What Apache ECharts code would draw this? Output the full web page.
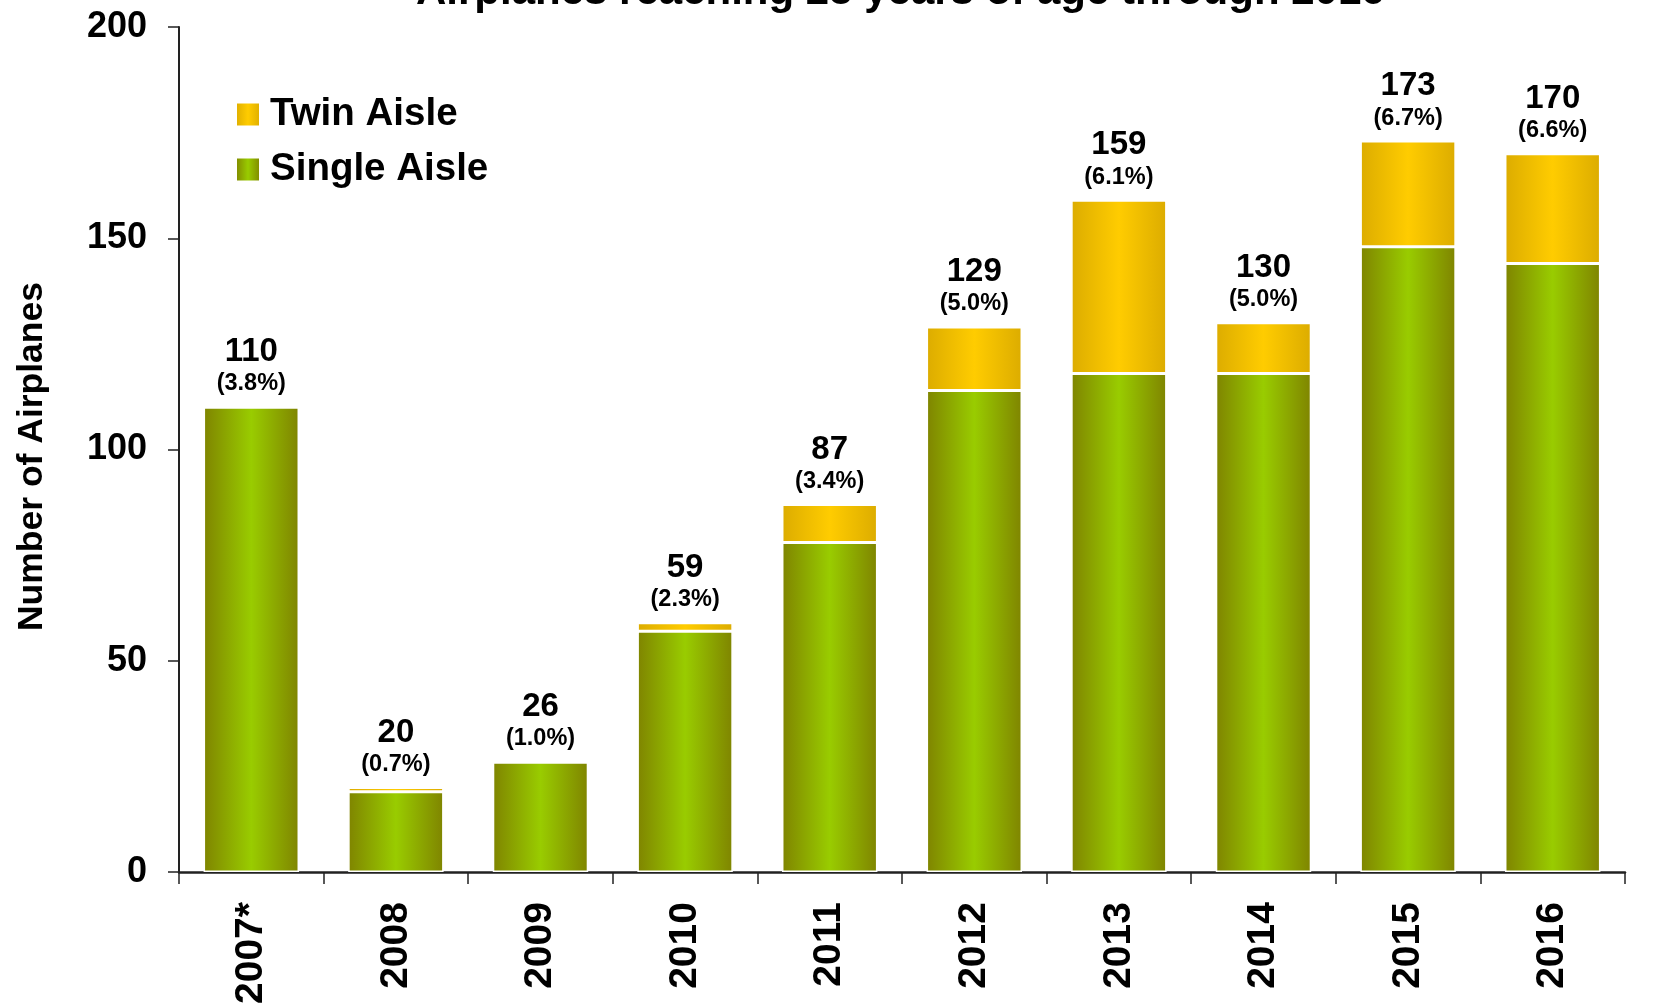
<!DOCTYPE html>
<html>
<head>
<meta charset="utf-8">
<script src="https://cdn.jsdelivr.net/npm/echarts@6/dist/echarts.min.js"></script>
<style>
html,body{margin:0;padding:0;background:#fff;}
#chart{width:1674px;height:1007px;}
</style>
</head>
<body>
<div id="chart"></div>
<script>
const categories = ['2007*','2008','2009','2010','2011','2012','2013','2014','2015','2016'];
const singleAisle = [110, 19, 26, 57, 78, 114, 118, 118, 148, 144];
const twinAisle   = [0, 1, 0, 2, 9, 15, 41, 12, 25, 26];
const totals      = [110, 20, 26, 59, 87, 129, 159, 130, 173, 170];
const percents    = ['3.8%','0.7%','1.0%','2.3%','3.4%','5.0%','6.1%','5.0%','6.7%','6.6%'];
const yTicks = [0, 50, 100, 150, 200];

const FONT = 'Liberation Sans, Arial, sans-serif';
const greenGrad = new echarts.graphic.LinearGradient(0,0,1,0,[
  {offset:0,color:'#7f8400'},{offset:0.5,color:'#99cc00'},{offset:1,color:'#7f8400'}]);
const yellowGrad = new echarts.graphic.LinearGradient(0,0,1,0,[
  {offset:0,color:'#dcac00'},{offset:0.5,color:'#ffcc00'},{offset:1,color:'#dcac00'}]);

const chart = echarts.init(document.getElementById('chart'), null, {renderer:'canvas'});
chart.setOption({
  backgroundColor:'#ffffff',
  animation:false,
  textStyle:{fontFamily:FONT},
  title:{
    text:'Airplanes reaching 25 years of age through 2016',
    left:411, top:-34,
    textStyle:{fontFamily:FONT,fontSize:42,fontWeight:'bold',color:'#000'}
  },
  legend:{
    data:['Twin Aisle','Single Aisle'],
    orient:'vertical', left:230, top:90,
    itemWidth:24, itemHeight:24, itemGap:16,
    icon:'rect',
    textStyle:{fontFamily:FONT,fontSize:38.5,fontWeight:'bold',color:'#000',padding:[0,0,0,5]}
  },
  grid:{left:179,right:49,top:27,bottom:132},
  xAxis:{
    type:'category', data:categories,
    axisLine:{lineStyle:{color:'#222',width:2.5}},
    axisTick:{show:true,length:12,lineStyle:{color:'#222',width:1.5}},
    axisLabel:{rotate:90,margin:30,fontFamily:FONT,fontSize:39,fontWeight:'bold',color:'#000'}
  },
  yAxis:{
    type:'value', min:yTicks[0], max:yTicks[yTicks.length-1], interval:50,
    name:'Number of Airplanes', nameLocation:'middle', nameGap:129, nameRotate:90,
    nameTextStyle:{fontFamily:FONT,fontSize:35.5,fontWeight:'bold',color:'#000',padding:[0,14,0,0]},
    axisLine:{show:true,lineStyle:{color:'#222',width:2}},
    axisTick:{show:true,length:11,lineStyle:{color:'#222',width:1.5}},
    splitLine:{show:false},
    axisLabel:{margin:32,fontFamily:FONT,fontSize:36,fontWeight:'bold',color:'#000'}
  },
  series:[
    {
      name:'Single Aisle', type:'bar', stack:'a', data:singleAisle,
      barWidth:'66%',
      itemStyle:{color:greenGrad,borderColor:'#fff',borderWidth:1.5}
    },
    {
      name:'Twin Aisle', type:'bar', stack:'a', data:twinAisle,
      barWidth:'66%',
      itemStyle:{color:yellowGrad,borderColor:'#fff',borderWidth:1.5},
      label:{
        show:true, position:'top', distance:8,
        formatter:(p)=>'{t|'+totals[p.dataIndex]+'}\n{p|('+percents[p.dataIndex]+')}',
        rich:{
          t:{fontFamily:FONT,fontSize:33,fontWeight:'bold',color:'#000',lineHeight:34,align:'center'},
          p:{fontFamily:FONT,fontSize:23.5,fontWeight:'bold',color:'#000',lineHeight:30,align:'center'}
        }
      }
    }
  ]
});
</script>
</body>
</html>
